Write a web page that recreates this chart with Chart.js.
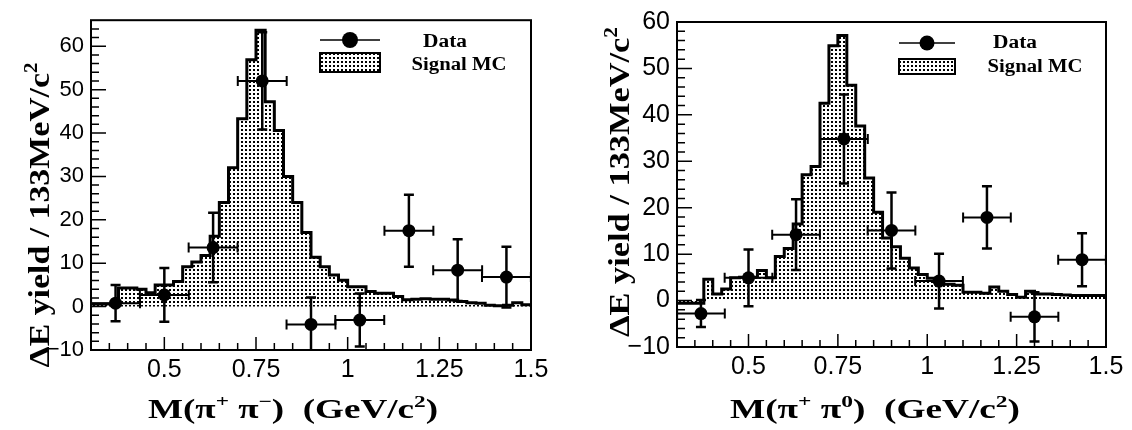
<!DOCTYPE html>
<html>
<head>
<meta charset="utf-8">
<script src="https://cdn.jsdelivr.net/npm/chart.js@4.4.0/dist/chart.umd.min.js"></script>
<style>
  body { margin: 0; background: #fff; }
  #wrap { position: relative; width: 1132px; height: 430px; }
  .panel { position: absolute; top: 0; width: 566px; height: 430px; }
</style>
</head>
<body>
<div id="wrap">
  <div class="panel" style="left:0"><canvas id="chartPipi" width="566" height="430"></canvas></div>
  <div class="panel" style="left:566px"><canvas id="chartPipi0" width="566" height="430"></canvas></div>
</div>
<script>
// data bins (GeV/c^2), 133 MeV wide
const dataMass = [0.367, 0.500, 0.633, 0.767, 0.900, 1.033, 1.167, 1.300, 1.433];
const dataHalfWidth = 0.0667;

// pi+ pi- : yield and error
const pipiYield = [0.8, 2.7, 13.6, 52.0, -4.1, -3.1, 17.5, 8.4, 6.8];
const pipiErr   = [4.2, 6.2, 8.0, 11.2, 6.2, 6.1, 8.3, 7.1, 7.0];

// pi+ pi0 : yield and error
const pipi0Yield = [-2.8, 4.9, 14.2, 34.8, 15.1, 4.2, 17.9, -3.5, 8.8];
const pipi0Err   = [2.9, 6.1, 7.6, 9.6, 8.2, 5.9, 6.7, 5.3, 5.7];

// signal MC histogram, left bin edges (25 MeV bins)
const mcEdges = [0.300, 0.325, 0.350, 0.375, 0.400, 0.425, 0.450, 0.475, 0.500, 0.525,
                 0.550, 0.575, 0.600, 0.625, 0.650, 0.675, 0.700, 0.725, 0.750, 0.775,
                 0.800, 0.825, 0.850, 0.875, 0.900, 0.925, 0.950, 0.975, 1.000, 1.025,
                 1.050, 1.075, 1.100, 1.125, 1.150, 1.175, 1.200, 1.225, 1.250, 1.275,
                 1.300, 1.325, 1.350, 1.375, 1.400, 1.425, 1.450, 1.475];
const mcEnd = 1.5;
const mcPipi = [0.6, 0.6, 0.6, 4.3, 4.3, 4.0, 3.2, 5.0, 5.0, 5.8,
                9.2, 10.3, 11.8, 16.2, 24.0, 32.0, 43.3, 56.9, 63.7, 47.2,
                40.6, 30.0, 24.0, 17.1, 11.4, 9.2, 7.3, 6.1, 4.6, 4.6,
                3.5, 3.1, 3.1, 2.3, 1.6, 1.7, 1.8, 1.7, 1.7, 1.5,
                1.2, 0.9, 0.8, 0.3, 0.2, 0.3, 0.9, 0.4];
const mcPipi0 = [-0.6, -0.6, -0.6, 4.6, 1.4, 2.5, 4.9, 5.0, 5.0, 6.5,
                 4.9, 9.5, 11.2, 16.5, 27.1, 28.9, 42.5, 54.9, 57.1, 46.4,
                 37.6, 26.4, 19.0, 13.5, 11.6, 9.1, 7.0, 5.6, 4.8, 3.5,
                 3.5, 3.3, 1.8, 1.8, 1.6, 2.9, 2.0, 1.3, 0.7, 2.0,
                 1.4, 1.4, 1.3, 1.2, 1.1, 1.1, 1.1, 1.1];

// axis ticks
const xTicks = [0.5, 0.75, 1, 1.25, 1.5];
const xTickLabels = ['0.5', '0.75', '1', '1.25', '1.5'];
const yTicks = [-10, 0, 10, 20, 30, 40, 50, 60];
const yTickLabels = ['\u221210', '0', '10', '20', '30', '40', '50', '60'];

function dotPattern() {
  const c = document.createElement('canvas');
  c.width = 4; c.height = 4;
  const g = c.getContext('2d');
  g.fillStyle = '#fff'; g.fillRect(0, 0, 4, 4);
  g.fillStyle = '#000'; g.fillRect(1, 1, 2, 2);
  return g.createPattern(c, 'repeat');
}
const pattern = dotPattern();

function histPoints(vals) {
  const pts = mcEdges.map((e, i) => ({ x: e, y: vals[i] }));
  pts.push({ x: mcEnd, y: vals[vals.length - 1] });
  return pts;
}

// text with superscripts, stretched to a given length
function drawRich(ctx, parts, cx, cy, size, len, angle) {
  const main = 'bold ' + size + 'px "Liberation Serif"';
  const sup = 'bold ' + Math.round(size * 0.62) + 'px "Liberation Serif"';
  ctx.save();
  let w = 0;
  parts.forEach(p => { ctx.font = p[1] ? sup : main; p.w = ctx.measureText(p[0]).width; w += p.w; });
  ctx.translate(cx, cy);
  ctx.rotate(angle);
  ctx.scale(len / w, 1);
  ctx.fillStyle = '#000';
  ctx.textBaseline = 'alphabetic';
  let x = -w / 2;
  parts.forEach(p => {
    ctx.font = p[1] ? sup : main;
    ctx.fillText(p[0], x, p[1] ? -size * 0.42 : 0);
    x += p.w;
  });
  ctx.restore();
}

const framePlugin = {
  id: 'frame',
  afterDatasetsDraw(chart, args, o) {
    const { ctx, chartArea: a, scales: { x, y } } = chart;
    ctx.save();
    ctx.strokeStyle = '#000';

    // error bars
    ctx.beginPath();
    ctx.rect(a.left, a.top, a.width, a.height);
    ctx.clip();
    dataMass.forEach((m, i) => {
      const px = x.getPixelForValue(m);
      const py = y.getPixelForValue(o.yields[i]);
      const x0 = x.getPixelForValue(m - dataHalfWidth);
      const x1 = x.getPixelForValue(m + dataHalfWidth);
      const yHi = y.getPixelForValue(o.yields[i] + o.errs[i]);
      const yLo = y.getPixelForValue(o.yields[i] - o.errs[i]);
      ctx.lineWidth = 2;
      ctx.beginPath();
      ctx.moveTo(x0, py); ctx.lineTo(x1, py);
      ctx.moveTo(x0, py - 5); ctx.lineTo(x0, py + 5);
      ctx.moveTo(x1, py - 5); ctx.lineTo(x1, py + 5);
      ctx.stroke();
      ctx.lineWidth = 2.5;
      ctx.beginPath();
      ctx.moveTo(px, yHi); ctx.lineTo(px, yLo);
      ctx.moveTo(px - 5, yHi); ctx.lineTo(px + 5, yHi);
      ctx.moveTo(px - 5, yLo); ctx.lineTo(px + 5, yLo);
      ctx.stroke();
    });
    ctx.restore();

    ctx.save();
    ctx.strokeStyle = '#000';
    ctx.lineWidth = 2;
    ctx.strokeRect(a.left, a.top, a.width, a.height);
    // inward ticks
    ctx.lineWidth = 1.5;
    ctx.beginPath();
    for (let k = 6; k <= 30; k++) {
      const v = k * 0.05;
      const px = x.getPixelForValue(v);
      if (px < a.left + 1 || px > a.right - 1) continue;
      const len = (k % 5 === 0) ? 13 : 7;
      ctx.moveTo(px, a.bottom); ctx.lineTo(px, a.bottom - len);
    }
    for (let v = -10; v <= y.max; v += 2) {
      const py = y.getPixelForValue(v);
      if (py < a.top + 1 || py > a.bottom - 1) continue;
      const len = (v % 10 === 0) ? 15 : 8;
      ctx.moveTo(a.left, py); ctx.lineTo(a.left + len, py);
    }
    ctx.stroke();

    // legend
    const L = o.legend;
    ctx.lineWidth = 1.5;
    ctx.beginPath();
    ctx.moveTo(L.x0, L.lineY); ctx.lineTo(L.x1, L.lineY);
    ctx.stroke();
    ctx.fillStyle = '#000';
    ctx.beginPath();
    ctx.arc((L.x0 + L.x1) / 2, L.lineY, L.r, 0, Math.PI * 2);
    ctx.fill();
    ctx.fillStyle = pattern;
    ctx.fillRect(L.x0, L.boxY, L.x1 - L.x0, L.boxH);
    ctx.lineWidth = 2;
    ctx.strokeRect(L.x0, L.boxY, L.x1 - L.x0, L.boxH);
    drawRich(ctx, [['Data', 0]], L.dataX + 22, L.dataY, 18, 44, 0);
    drawRich(ctx, [['Signal MC', 0]], L.mcX + 47, L.mcY, 18, 95, 0);

    // axis titles
    const T = o.titles;
    drawRich(ctx, [['\u0394E yield / 133MeV/c', 0], ['2', 1]], T.yx, T.yy, 29, T.ylen, -Math.PI / 2);
    drawRich(ctx, T.xparts, T.xx, T.xy, 27, T.xlen, 0);
    ctx.restore();
  }
};

function makeChart(id, yields, errs, mc, yMax, yFont, pad, legend, titles) {
  return new Chart(document.getElementById(id), {
    type: 'line',
    data: {
      datasets: [{
        label: 'Data',
        data: dataMass.map((m, i) => ({ x: m, y: yields[i] })),
        showLine: false,
        pointRadius: 6.5,
        pointBackgroundColor: '#000',
        pointBorderColor: '#000',
        pointBorderWidth: 0
      }, {
        label: 'Signal MC',
        data: histPoints(mc),
        stepped: 'before',
        borderColor: '#000',
        borderWidth: 3,
        pointRadius: 0,
        fill: 'origin',
        backgroundColor: pattern
      }]
    },
    options: {
      responsive: false,
      animation: false,
      devicePixelRatio: 1,
      layout: { padding: pad },
      plugins: {
        legend: { display: false },
        tooltip: { enabled: false },
        frame: { yields: yields, errs: errs, legend: legend, titles: titles }
      },
      scales: {
        x: {
          type: 'linear', min: 0.3, max: 1.5,
          afterBuildTicks: s => { s.ticks = xTicks.map(v => ({ value: v })); },
          afterFit: s => { s.height = 34; },
          grid: { display: false, drawTicks: false },
          border: { display: false },
          ticks: {
            callback: (v, i) => xTickLabels[i],
            font: { family: 'Liberation Sans', size: 25 },
            color: '#000', padding: 5, maxRotation: 0, autoSkip: false
          }
        },
        y: {
          type: 'linear', min: -10, max: yMax,
          afterBuildTicks: s => { s.ticks = yTicks.map(v => ({ value: v })); },
          afterFit: s => { s.width = 60; },
          grid: { display: false, drawTicks: false },
          border: { display: false },
          ticks: {
            callback: (v, i) => yTickLabels[i],
            font: { family: 'Liberation Sans', size: yFont },
            color: '#000', padding: 7
          }
        }
      }
    },
    plugins: [framePlugin]
  });
}

makeChart('chartPipi', pipiYield, pipiErr, mcPipi, 66, 22,
  { left: 31, right: 35, top: 17, bottom: 46 },
  { x0: 320, x1: 380, lineY: 40, r: 8, boxY: 53, boxH: 19, dataX: 423, dataY: 47, mcX: 412, mcY: 70 },
  { yx: 49, yy: 215, ylen: 305, xx: 293, xy: 418, xlen: 290,
    xparts: [['M(\u03c0', 0], ['+', 1], [' \u03c0', 0], ['\u2212', 1], [')  (GeV/c', 0], ['2', 1], [')', 0]] });

makeChart('chartPipi0', pipi0Yield, pipi0Err, mcPipi0, 60, 25,
  { left: 51, right: 26, top: 15, bottom: 49 },
  { x0: 333, x1: 389, lineY: 43, r: 7.5, boxY: 59, boxH: 15, dataX: 427, dataY: 48, mcX: 422, mcY: 72 },
  { yx: 63, yy: 182, ylen: 310, xx: 309, xy: 418, xlen: 290,
    xparts: [['M(\u03c0', 0], ['+', 1], [' \u03c0', 0], ['0', 1], [')  (GeV/c', 0], ['2', 1], [')', 0]] });
</script>
</body>
</html>
